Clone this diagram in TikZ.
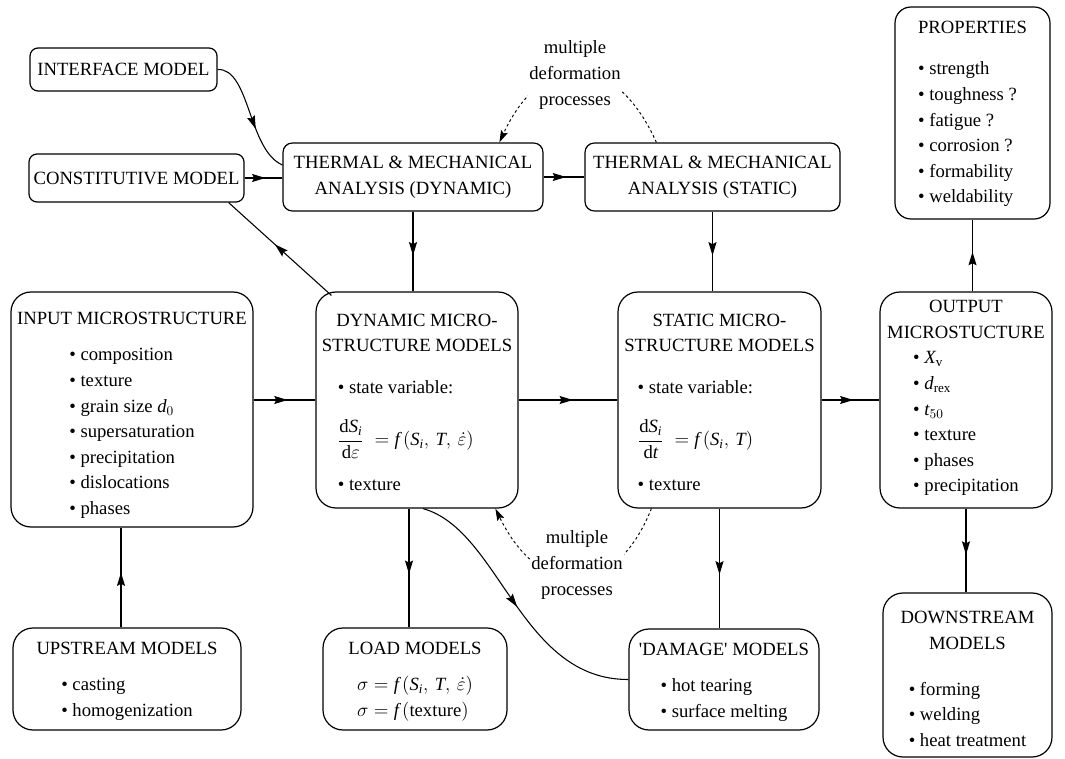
\documentclass[tikz,border=0pt]{standalone}
\usepackage{fontspec}
\setmainfont{Liberation Serif}
\usetikzlibrary{arrows.meta,decorations.markings,calc}
\newcommand{\bl}{\textbullet\ }
\newcommand{\ttl}[1]{\multicolumn{1}{@{}c@{}}{#1}}
\newcommand{\dn}[1]{\rule{0pt}{#1}}
\tikzset{
  x=0.75pt, y=-0.75pt,
  box/.style={draw, line width=0.9pt, inner sep=0pt, align=center,
    font=\fontsize{14}{19.2}\selectfont},
  conn/.style={line width=0.8pt},
  midarrow/.style={postaction={decorate}, decoration={markings,
    mark=at position #1 with {\arrow{Stealth[length=10pt,width=6pt,inset=1.5pt]}}}},
  midarrow/.default=0.5,
  dots/.style={line width=0.7pt, dash pattern=on 2pt off 2pt},
  lbl/.style={align=center, fill=white, inner sep=1pt,
    font=\fontsize{14}{19.2}\selectfont}
}
\begin{document}
\begin{tikzpicture}
\useasboundingbox (0,0) rectangle (1065,759);

% --- boxes ---
\node[box, rounded corners=6pt, minimum width=140.25pt, minimum height=32.25pt] (iface) at (123.5,69.5) {INTERFACE MODEL};
\node[box, rounded corners=6pt, minimum width=161.25pt, minimum height=36pt] (const) at (136.5,178) {CONSTITUTIVE MODEL};
\node[box, rounded corners=7pt, minimum width=195pt, minimum height=51pt] (thd) at (413,177) {THERMAL \& MECHANICAL\\ANALYSIS (DYNAMIC)};
\node[box, rounded corners=7pt, minimum width=191.25pt, minimum height=51pt] (ths) at (712.5,177) {THERMAL \& MECHANICAL\\ANALYSIS (STATIC)};

\node[box, rounded corners=12pt, minimum width=116.25pt, minimum height=159pt] (props) at (972.5,113)
{\begin{tabular}{@{}l@{}}\ttl{PROPERTIES}\\[12pt]
\bl strength\\ \bl toughness ?\\ \bl fatigue ?\\ \bl corrosion ?\\ \bl formability\\ \bl weldability\end{tabular}};

\node[box, rounded corners=15pt, minimum width=181.5pt, minimum height=176.25pt] (input) at (132,409.5)
{\dn{21pt}INPUT MICROSTRUCTURE\\[8pt]
\begin{tabular}[t]{@{}l@{}}\bl composition\\ \bl texture\\ \bl grain size $\mathit{d}_0$\\ \bl supersaturation\\ \bl precipitation\\ \bl dislocations\\ \bl phases\end{tabular}};

\node[box, rounded corners=15pt, minimum width=151.5pt, minimum height=162pt] (dynm) at (417,400)
{\begin{tabular}{@{}l@{}}\ttl{\dn{18pt}DYNAMIC MICRO-}\\ \ttl{STRUCTURE MODELS}\\[12pt]
\hspace{12pt}\bl state variable:\\[14pt]
\hspace{12pt}$\displaystyle\frac{\mathrm{d}\mathit{S}_{\mathit{i}}}{\mathrm{d}\varepsilon}\;=\mathit{f}\,(\mathit{S}_{\mathit{i}},\,\mathit{T},\,\dot{\varepsilon})$\\[14pt]
\hspace{12pt}\bl texture\end{tabular}};

\node[box, rounded corners=15pt, minimum width=152.25pt, minimum height=162pt] (stam) at (719.5,400)
{\begin{tabular}{@{}l@{}}\ttl{\dn{18pt}STATIC MICRO-}\\ \ttl{STRUCTURE MODELS}\\[12pt]
\hspace{10pt}\bl state variable:\\[14pt]
\hspace{10pt}$\displaystyle\frac{\mathrm{d}\mathit{S}_{\mathit{i}}}{\mathrm{d}\mathit{t}}\;=\mathit{f}\,(\mathit{S}_{\mathit{i}},\,\mathit{T})$\\[14pt]
\hspace{10pt}\bl texture\end{tabular}};

\node[box, rounded corners=15pt, minimum width=129pt, minimum height=162pt] (output) at (966,400)
{OUTPUT\\MICROSTUCTURE\\
\begin{tabular}[t]{@{}l@{}}\bl $\mathit{X}_{\mathrm{v}}$\\ \bl $\mathit{d}_{\mathrm{rex}}$\\ \bl $\mathit{t}_{50}$\\ \bl texture\\ \bl phases\\ \bl precipitation\end{tabular}};

\node[box, rounded corners=15pt, minimum width=171pt, minimum height=76.5pt] (up) at (127,679)
{\dn{15pt}UPSTREAM MODELS\\[8pt]
\begin{tabular}[t]{@{}l@{}}\bl casting\\ \bl homogenization\end{tabular}};

\node[box, rounded corners=15pt, minimum width=138pt, minimum height=76.5pt] (load) at (415,679)
{\dn{15pt}LOAD MODELS\\[8pt]
\begin{tabular}[t]{@{}l@{}}$\sigma=\mathit{f}\,(\mathit{S}_{\mathit{i}},\,\mathit{T},\,\dot{\varepsilon})$\\ $\sigma=\mathit{f}\,(\mathrm{texture})$\end{tabular}};

\node[box, rounded corners=15pt, minimum width=142.5pt, minimum height=75.75pt] (dam) at (724,679.5)
{\dn{16pt}\textquotesingle DAMAGE\textquotesingle\ MODELS\\[8pt]
\begin{tabular}[t]{@{}l@{}}\bl hot tearing\\ \bl surface melting\end{tabular}};

\node[box, rounded corners=15pt, minimum width=126.75pt, minimum height=123pt] (down) at (967.5,675)
{\dn{21pt}DOWNSTREAM\\MODELS\\[15pt]
\begin{tabular}[t]{@{}l@{}}\bl forming\\ \bl welding\\ \bl heat treatment\end{tabular}};

% --- dotted feedback loops with labels ---
\coordinate (tsA) at ($(ths.north west)+(72,0)$);
\coordinate (tdA) at ($(thd.north west)+(217,0)$);
\draw[dots, -{Stealth[length=9pt,width=5.5pt,inset=1.5pt]}] (tsA) .. controls (615,50) and (542,50) .. (tdA);
\node[lbl] (toplbl) at (575,75) {multiple\\deformation\\processes};

\coordinate (smB) at ($(stam.south west)+(34,0)$);
\coordinate (dmB) at ($(dynm.south west)+(180,0)$);
\draw[dots, -{Stealth[length=9pt,width=5.5pt,inset=1.5pt]}] (smB) .. controls (615,600) and (540,600) .. (dmB);
\node[lbl] (botlbl) at (577,565) {multiple\\deformation\\processes};

% --- connectors ---
\draw[conn, midarrow=0.55] (const.east) -- (const.east -| thd.west);
\coordinate (ifEnd) at ($(thd.west)+(0,-12)$);
\draw[conn, midarrow=0.62] (iface.east) .. controls (250,68) and (248,150) .. (ifEnd);
\draw[conn, midarrow=0.55] (thd.east) -- (ths.west);
\draw[conn, midarrow=0.55] (thd.south) -- (thd.south |- dynm.north);
\draw[conn, midarrow=0.55] (ths.south) -- (ths.south |- stam.north);
\coordinate (dmC) at ($(dynm.north west)+(16,4)$);
\coordinate (csC) at ($(const.south east)+(-16,0)$);
\draw[conn, midarrow=0.55] (dmC) -- (csC);
\draw[conn, midarrow=0.55] (input.east |- dynm.west) -- (dynm.west);
\draw[conn, midarrow=0.55] (dynm.east) -- (stam.west);
\draw[conn, midarrow=0.55] (stam.east) -- (output.west);
\draw[conn, midarrow=0.55] (output.north -| props.south) -- (props.south);
\draw[conn, midarrow=0.55] (output.south) -- (output.south |- down.north);
\coordinate (upN) at ($(up.north)+(-6,0)$);
\draw[conn, midarrow=0.55] (upN) -- (upN |- input.south);
\coordinate (dmL) at ($(dynm.south)+(-8,0)$);
\draw[conn, midarrow=0.55] (dmL) -- (dmL |- load.north);
\draw[conn, midarrow=0.55] (stam.south) -- (stam.south |- dam.north);
\coordinate (dmS) at ($(dynm.south)+(6,0)$);
\draw[conn, midarrow=0.5] (dmS) .. controls (500,530) and (520,680) .. (dam.west);
\end{tikzpicture}
\end{document}
